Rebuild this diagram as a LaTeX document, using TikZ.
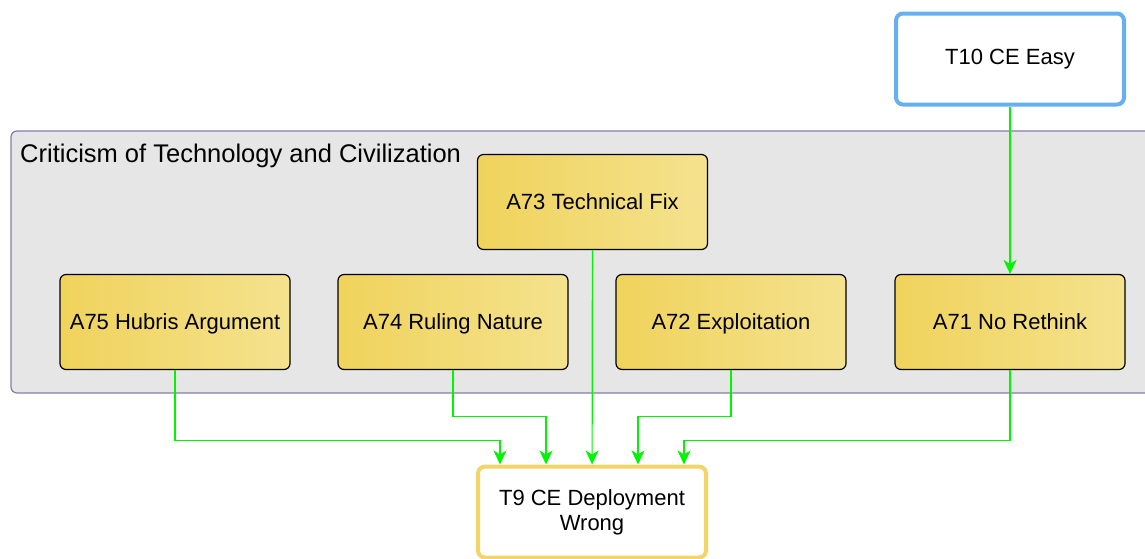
\documentclass[tikz,border=0pt]{standalone}
\usepackage{fontspec}
\setmainfont{Liberation Sans}
\usetikzlibrary{arrows.meta}

\definecolor{groupfill}{RGB}{230,230,230}
\definecolor{groupline}{RGB}{130,126,170}
\definecolor{argleft}{RGB}{240,211,92}
\definecolor{argright}{RGB}{244,226,142}
\definecolor{topicblue}{RGB}{102,176,240}
\definecolor{topicgold}{RGB}{242,212,104}
\definecolor{flowgreen}{RGB}{0,245,0}

\tikzset{
  argbox/.style={draw=black,line width=1.2pt,rounded corners=6pt,
    left color=argleft,right color=argright,
    minimum width=230pt,minimum height=95pt,text height=14pt,text depth=0pt},
  topicbox/.style={draw,line width=4pt,rounded corners=7pt,fill=white,
    minimum width=228pt,minimum height=91pt,align=center},
  flow/.style={draw=flowgreen,line width=1.2pt,
    -{Stealth[length=14pt,width=13pt,inset=4pt]}}
}

\begin{document}
\begin{tikzpicture}
[x=1pt,y=-1pt,every node/.style={font=\fontsize{22}{25}\selectfont}]
\useasboundingbox (0,0) rectangle (1145,558);
% group
\draw[fill=groupfill,draw=groupline,line width=1.2pt,rounded corners=6pt]
  (11,131) rectangle (1160,393);
\node[anchor=west,inner sep=0pt,font=\fontsize{25.5}{29}\selectfont] (title) at (20,156) {Criticism of Technology and Civilization};
% topics
\node[topicbox,draw=topicblue] (t10) at (1010,59) {T10 CE Easy\strut};
\node[topicbox,draw=topicgold] (t9) at (592,512) {T9 CE Deployment\\Wrong};
% arguments
\node[argbox] (a73) at (592.5,202) {A73 Technical Fix};
\node[argbox] (a75) at (175,322) {A75 Hubris Argument};
\node[argbox] (a74) at (453,322) {A74 Ruling Nature};
\node[argbox] (a72) at (731,322) {A72 Exploitation};
\node[argbox] (a71) at (1010,322) {A71 No Rethink};
% connectors
\draw[flow] (t10) -- (a71);
\draw[flow] (a73) -- (t9);
\foreach \from/\dx/\dy in {a75/-92/70,a74/-46/46,a72/46/46,a71/92/70}
\draw[flow] (\from.south) -- ++(0,\dy) -| ([xshift=\dx pt]t9.north);
\end{tikzpicture}
\end{document}
